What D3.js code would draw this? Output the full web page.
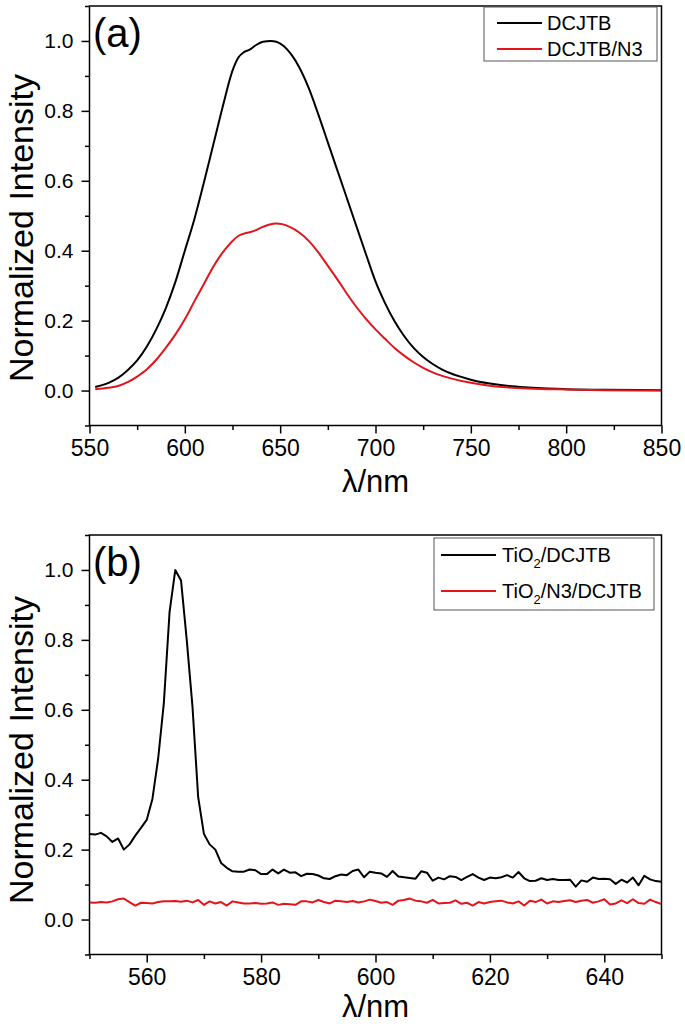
<!DOCTYPE html>
<html><head><meta charset="utf-8">
<script src="https://cdn.jsdelivr.net/npm/d3@7"></script>
<style>
html,body{margin:0;padding:0;background:#fff;}
text{font-family:"Liberation Sans",Arial,Helvetica,sans-serif;fill:#000;}
</style></head>
<body>
<svg id="chart" width="685" height="1024"></svg>
<script>
// ---------- Panel (a) data ----------
const waveA = [553,560,565,570,575,580,585,590,595,600,605,610,615,620,625,628,631,634,637,641,645,648,652,656,660,665,670,675,680,685,690,695,700,705,710,715,720,725,730,735,740,745,750,760,770,780,790,800,820,850];
const dcjtb = [0.010,0.022,0.036,0.058,0.086,0.125,0.175,0.235,0.310,0.400,0.490,0.595,0.705,0.815,0.915,0.952,0.968,0.975,0.987,0.998,1.000,0.998,0.985,0.960,0.925,0.865,0.790,0.710,0.630,0.550,0.470,0.390,0.312,0.250,0.198,0.156,0.122,0.096,0.076,0.060,0.048,0.039,0.031,0.020,0.013,0.009,0.006,0.004,0.002,0.001];
const waveA2 = [553,560,565,570,575,580,585,590,595,600,605,610,615,620,625,628,631,634,637,640,644,648,651,655,660,665,670,675,680,685,690,695,700,705,710,715,720,725,730,735,740,750,760,770,780,790,800,820,850];
const dcjtbN3 = [0.004,0.008,0.013,0.024,0.040,0.060,0.088,0.122,0.160,0.204,0.255,0.305,0.355,0.396,0.428,0.442,0.449,0.453,0.458,0.466,0.474,0.478,0.476,0.468,0.452,0.428,0.395,0.357,0.318,0.277,0.239,0.205,0.175,0.148,0.122,0.100,0.081,0.065,0.052,0.042,0.034,0.022,0.014,0.009,0.006,0.004,0.003,0.001,0.000];

// ---------- Panel (b) data (550..650 nm, 1 nm step) ----------
const waveB = d3.range(550, 651, 1);
const tio2Dcjtb = [0.245,0.243,0.248,0.238,0.222,0.232,0.200,0.215,0.240,0.262,
0.285,0.345,0.460,0.620,0.880,1.000,0.970,0.800,0.610,0.350,
0.245,0.215,0.200,0.162,0.148,0.138,0.137,0.137,0.143,0.141,
0.130,0.130,0.143,0.132,0.143,0.134,0.135,0.124,0.131,0.130,
0.126,0.118,0.116,0.124,0.129,0.127,0.139,0.143,0.121,0.137,
0.134,0.132,0.122,0.139,0.123,0.121,0.119,0.117,0.138,0.134,
0.111,0.120,0.115,0.124,0.122,0.113,0.122,0.130,0.120,0.113,
0.120,0.118,0.121,0.127,0.120,0.136,0.118,0.110,0.111,0.118,
0.113,0.116,0.113,0.113,0.114,0.094,0.112,0.108,0.120,0.116,
0.117,0.115,0.102,0.114,0.106,0.120,0.098,0.125,0.115,0.110,0.108];
const tio2N3Dcjtb = [0.049,0.048,0.050,0.049,0.052,0.058,0.060,0.050,0.040,0.048,
0.047,0.046,0.050,0.052,0.052,0.053,0.051,0.054,0.049,0.056,
0.042,0.052,0.046,0.050,0.040,0.052,0.049,0.046,0.046,0.047,
0.045,0.046,0.049,0.042,0.045,0.044,0.042,0.052,0.052,0.049,
0.056,0.050,0.046,0.054,0.052,0.050,0.053,0.049,0.052,0.057,
0.053,0.048,0.050,0.042,0.054,0.056,0.060,0.054,0.052,0.048,
0.056,0.046,0.047,0.048,0.055,0.045,0.048,0.040,0.050,0.046,
0.050,0.052,0.054,0.049,0.046,0.052,0.040,0.054,0.050,0.057,
0.046,0.052,0.050,0.053,0.055,0.050,0.054,0.056,0.048,0.052,
0.058,0.043,0.046,0.055,0.047,0.058,0.047,0.045,0.057,0.050,0.044];

// ---------- ticks ----------
const yMajor = [0.0,0.2,0.4,0.6,0.8,1.0];
const yMinor = [-0.1,0.1,0.3,0.5,0.7,0.9,1.1];
const xMajorA = [550,600,650,700,750,800,850];
const xMinorA = [575,625,675,725,775,825];
const xMajorB = [560,580,600,620,640];
const xMinorB = [550,570,590,610,630,650];

const legendA = ["DCJTB","DCJTB/N3"];
const colors = ["#000000","#e3141b"];

const svg = d3.select("#chart");
svg.append("rect").attr("width",685).attr("height",1024).attr("fill","#fff");

function panel(cfg){
  const g = svg.append("g");
  const x = d3.scaleLinear().domain(cfg.xDomain).range([89.5, 661.5]);
  const y = d3.scaleLinear().domain([-0.1, 1.1]).range([cfg.bottom, cfg.top]);

  // y axis
  const ya = g.append("g").attr("transform","translate(89.5,0)")
    .call(d3.axisLeft(y).tickValues(yMajor).tickFormat(d3.format(".1f")).tickSize(8).tickPadding(8).tickSizeOuter(0));
  ya.select(".domain").remove();
  ya.selectAll("line").attr("stroke","#000").attr("stroke-width",1.5);
  ya.selectAll("text").attr("font-size",21).attr("font-family",'"Liberation Sans",Arial,sans-serif');
  g.append("g").attr("transform","translate(89.5,0)")
    .call(d3.axisLeft(y).tickValues(yMinor).tickFormat("").tickSize(4.5).tickSizeOuter(0))
    .call(s=>{s.select(".domain").remove(); s.selectAll("line").attr("stroke","#000").attr("stroke-width",1.5);});

  // x axis
  const xa = g.append("g").attr("transform",`translate(0,${cfg.bottom})`)
    .call(d3.axisBottom(x).tickValues(cfg.xMajor).tickFormat(d3.format("d")).tickSize(8).tickPadding(cfg.xPad).tickSizeOuter(0));
  xa.select(".domain").remove();
  xa.selectAll("line").attr("stroke","#000").attr("stroke-width",1.5);
  xa.selectAll("text").attr("font-size",23).attr("font-family",'"Liberation Sans",Arial,sans-serif');
  g.append("g").attr("transform",`translate(0,${cfg.bottom})`)
    .call(d3.axisBottom(x).tickValues(cfg.xMinor).tickFormat("").tickSize(4.5).tickSizeOuter(0))
    .call(s=>{s.select(".domain").remove(); s.selectAll("line").attr("stroke","#000").attr("stroke-width",1.5);});

  // clip + lines
  const clipId = "clip"+cfg.id;
  g.append("clipPath").attr("id",clipId).append("rect")
    .attr("x",89.5).attr("y",cfg.top).attr("width",572).attr("height",cfg.bottom-cfg.top);
  cfg.series.forEach((s,i)=>{
    const line = d3.line().x((d,j)=>x(s.x[j])).y(d=>y(d)).curve(cfg.curve);
    g.append("path").datum(s.y).attr("clip-path",`url(#${clipId})`)
      .attr("d",line).attr("fill","none").attr("stroke",colors[i]).attr("stroke-width",2).attr("stroke-linejoin","round");
  });

  // frame
  g.append("rect").attr("x",89.5).attr("y",cfg.top).attr("width",572).attr("height",cfg.bottom-cfg.top)
    .attr("fill","none").attr("stroke","#000").attr("stroke-width",1.5);

  // panel letter
  g.append("text").attr("x",93).attr("y",cfg.top+41).attr("font-size",40).text(cfg.letter);

  // axis titles
  g.append("text").attr("transform",`translate(33,${cfg.yTitleY}) rotate(-90)`)
    .attr("text-anchor","middle").attr("font-size",34).text("Normalized Intensity");
  g.append("text").attr("x",375.5).attr("y",cfg.xTitleY).attr("text-anchor","middle")
    .attr("font-size",31).text("λ/nm");

  // legend
  const L = cfg.legend;
  g.append("rect").attr("x",L.x).attr("y",L.y).attr("width",L.w).attr("height",L.h)
    .attr("fill","#fff").attr("stroke","#555").attr("stroke-width",1);
  L.labels.forEach((lab,i)=>{
    const ly = L.y + L.rows[i];
    g.append("line").attr("x1",L.x+L.lx1).attr("x2",L.x+L.lx2).attr("y1",ly).attr("y2",ly)
      .attr("stroke",colors[i]).attr("stroke-width",2);
    const t = g.append("text").attr("x",L.x+L.tx).attr("y",ly+7).attr("font-size",20);
    lab.forEach(part=>{
      if(part.sub){ t.append("tspan").attr("font-size",13).attr("dy",6).text(part.t); }
      else { t.append("tspan").attr("dy",part.after?-6:0).text(part.t); }
    });
  });
}

panel({
  id:"a", letter:"(a)", xDomain:[550,850], top:6, bottom:425.5,
  xMajor:xMajorA, xMinor:xMinorA, xPad:6, curve:d3.curveMonotoneX,
  series:[{x:waveA,y:dcjtb},{x:waveA2,y:dcjtbN3}],
  yTitleY:228, xTitleY:492,
  legend:{x:484,y:7,w:173,h:54,rows:[16,42],lx1:13,lx2:58,tx:63,
    labels:[[{t:legendA[0]}],[{t:legendA[1]}]]}
});
panel({
  id:"b", letter:"(b)", xDomain:[550,650], top:535, bottom:954.5,
  xMajor:xMajorB, xMinor:xMinorB, xPad:6, curve:d3.curveLinear,
  series:[{x:waveB,y:tio2Dcjtb},{x:waveB,y:tio2N3Dcjtb}],
  yTitleY:750, xTitleY:1017,
  legend:{x:434,y:538,w:220,h:72,rows:[17,53],lx1:7,lx2:62,tx:68,
    labels:[[{t:"TiO"},{t:"2",sub:true},{t:"/DCJTB",after:true}],[{t:"TiO"},{t:"2",sub:true},{t:"/N3/DCJTB",after:true}]]}
});
</script>
</body></html>
